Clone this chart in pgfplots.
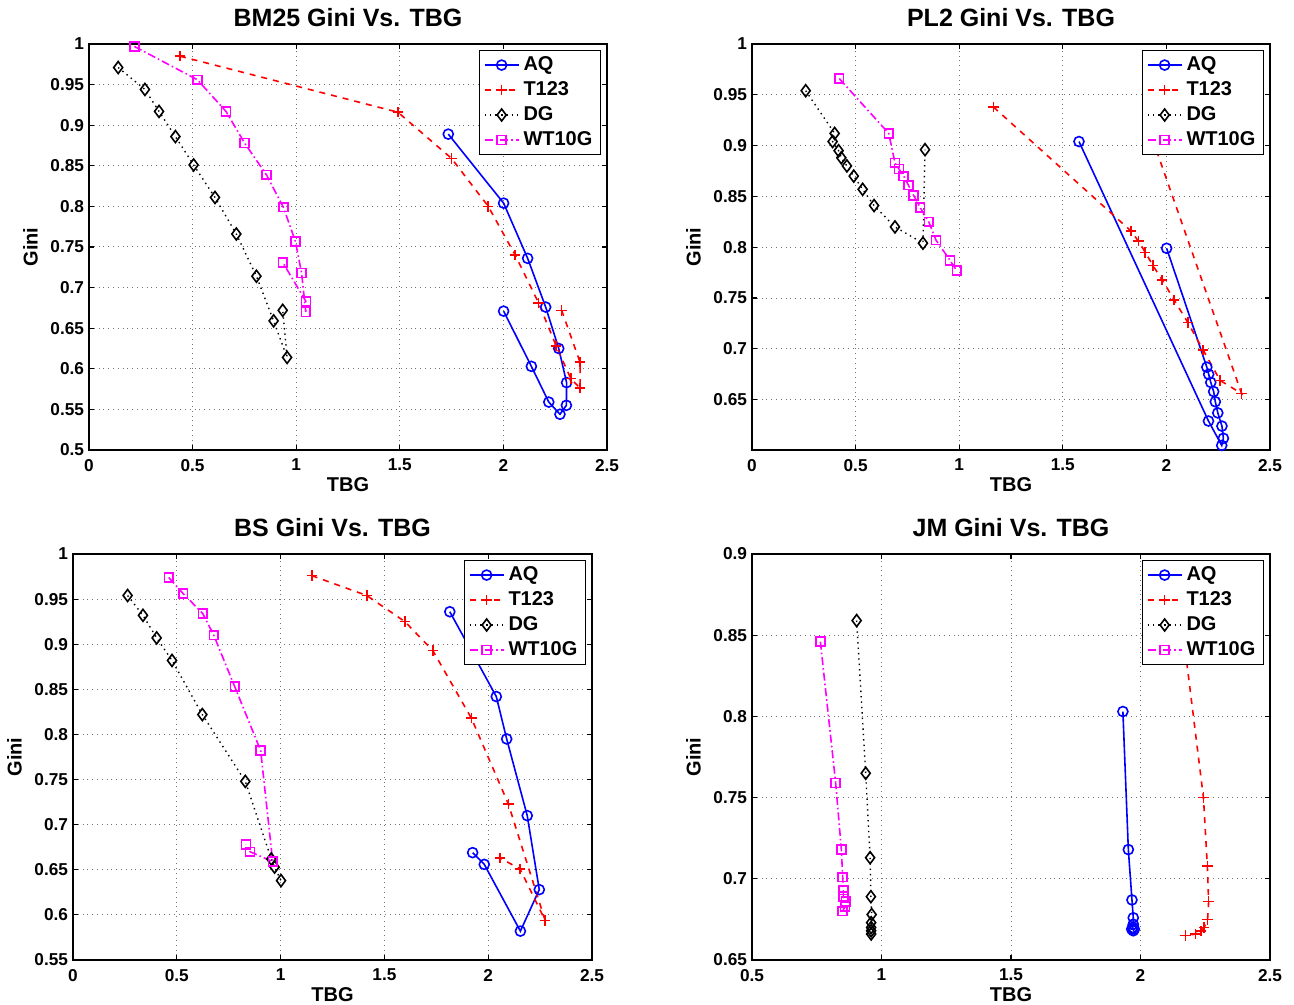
\documentclass[border=0pt]{standalone}
\usepackage{pgfplots}
\pgfplotsset{compat=1.18}
\usepackage{fontspec}
\setmainfont{Liberation Sans}
\setsansfont{Liberation Sans}
\definecolor{cAQ}{rgb}{0,0,1}
\definecolor{cT}{rgb}{1,0,0}
\definecolor{cDG}{rgb}{0,0,0}
\definecolor{cWT}{rgb}{1,0,1}
\pgfplotsset{
  gini/.style={
    scale only axis, width=259pt, height=203pt,
    xmin=0, xmax=2.5, xtick={0,0.5,1,1.5,2,2.5},
    grid=major, grid style={dotted, line width=0.5pt, black!55},
    axis line style={line width=0.7pt},
    tick style={line width=0.6pt, black},
    tick align=inside, major tick length=2.6pt,
    ticklabel style={font=\fontsize{8.6}{10}\selectfont\bfseries},
    /pgf/number format/assume math mode=true,
    xticklabel style={yshift=-1pt},
    yticklabel style={xshift=1pt},
    title style={font=\fontsize{12.5}{14}\selectfont\bfseries, yshift=-1pt},
    xlabel=TBG, ylabel=Gini,
    label style={font=\fontsize{10}{11}\selectfont\bfseries},
    xlabel style={yshift=3.5pt},
    ylabel style={yshift=-0.5pt},
    legend style={at={(1,1)}, anchor=north east, xshift=-3pt, yshift=-3pt,
      font=\fontsize{10}{11}\selectfont\bfseries, draw=black, fill=white,
      line width=0.6pt, inner xsep=2pt, inner ysep=1pt,
      /tikz/every even column/.append style={column sep=0pt}},
    legend cell align=left,
  },
  sAQ/.style={cAQ, solid, line width=0.8pt, mark=o, mark size=2.5pt, mark options={solid}},
  sT/.style={cT, dashed, line width=0.8pt, mark=+, mark size=2.6pt, mark options={solid}},
  sDG/.style={cDG, dotted, line width=0.7pt, mark=diamond, mark size=3pt, mark options={solid, line width=0.8pt}},
  sWT/.style={cWT, dash pattern=on 4pt off 1.5pt on 0.8pt off 1.5pt, line width=0.8pt, mark=square, mark size=2.2pt, mark options={solid}},
}
\begin{document}
\begin{tikzpicture}
\path[use as bounding box] (0,0) rectangle (647pt,502.5pt);
% BM25
\begin{axis}[gini, at={(44.5pt,277.5pt)}, anchor=south west,
  ymin=0.5, ymax=1, ytick={0.5,0.55,0.6,0.65,0.7,0.75,0.8,0.85,0.9,0.95,1},
  title={BM25 Gini Vs. TBG}]
\addplot[sAQ] coordinates {(1.734,0.889)(2.001,0.804)(2.117,0.736)(2.204,0.676)(2.267,0.625)(2.305,0.583)(2.304,0.555)(2.273,0.544)(2.219,0.559)(2.135,0.603)(2.001,0.671)};
\addplot[sT] coordinates {(0.439,0.985)(1.491,0.916)(1.750,0.859)(1.927,0.800)(2.057,0.740)(2.170,0.681)(2.255,0.628)(2.325,0.588)(2.370,0.576)(2.370,0.608)(2.281,0.672)};
\addplot[sDG] coordinates {(0.141,0.971)(0.270,0.944)(0.338,0.917)(0.417,0.886)(0.505,0.851)(0.608,0.811)(0.711,0.766)(0.808,0.714)(0.891,0.659)(0.956,0.614)(0.935,0.672)};
\addplot[sWT] coordinates {(0.219,0.997)(0.523,0.956)(0.661,0.917)(0.751,0.878)(0.856,0.839)(0.938,0.799)(0.996,0.757)(1.026,0.718)(1.046,0.670)(1.047,0.683)(0.935,0.731)};
\legend{AQ,T123,DG,WT10G}
\end{axis}
% PL2
\begin{axis}[gini, at={(376pt,277.5pt)}, anchor=south west,
  ymin=0.6005, ymax=1, ytick={0.65,0.7,0.75,0.8,0.85,0.9,0.95,1},
  title={PL2 Gini Vs. TBG}]
\addplot[sAQ] coordinates {(1.578,0.904)(2.203,0.629)(2.267,0.605)(2.275,0.612)(2.268,0.624)(2.248,0.637)(2.236,0.648)(2.228,0.658)(2.214,0.667)(2.204,0.675)(2.195,0.682)(2.001,0.799)};
\addplot[sT] coordinates {(1.165,0.938)(1.829,0.816)(1.865,0.806)(1.898,0.795)(1.935,0.782)(1.979,0.768)(2.038,0.748)(2.103,0.726)(2.177,0.699)(2.259,0.669)(2.363,0.656)(1.931,0.9075)};
\addplot[sDG] coordinates {(0.259,0.954)(0.399,0.912)(0.389,0.904)(0.418,0.895)(0.431,0.888)(0.458,0.880)(0.491,0.870)(0.534,0.857)(0.589,0.841)(0.690,0.820)(0.825,0.804)(0.835,0.896)};
\addplot[sWT] coordinates {(0.421,0.966)(0.660,0.912)(0.690,0.883)(0.709,0.877)(0.732,0.870)(0.755,0.861)(0.780,0.851)(0.812,0.839)(0.853,0.825)(0.888,0.807)(0.956,0.787)(0.988,0.777)};
\legend{AQ,T123,DG,WT10G}
\end{axis}
% BS
\begin{axis}[gini, at={(36.5pt,22.5pt)}, anchor=south west, width=259.5pt,
  ymin=0.55, ymax=1, ytick={0.55,0.6,0.65,0.7,0.75,0.8,0.85,0.9,0.95,1},
  title={BS Gini Vs. TBG}]
\addplot[sAQ] coordinates {(1.815,0.936)(2.039,0.842)(2.089,0.795)(2.188,0.710)(2.246,0.628)(2.155,0.582)(1.981,0.656)(1.925,0.669)};
\addplot[sT] coordinates {(1.150,0.976)(1.415,0.954)(1.599,0.925)(1.733,0.893)(1.919,0.818)(2.097,0.723)(2.274,0.594)(2.153,0.651)(2.057,0.663)};
\addplot[sDG] coordinates {(0.263,0.954)(0.337,0.932)(0.403,0.907)(0.477,0.882)(0.623,0.822)(0.830,0.748)(0.955,0.662)(0.971,0.653)(1.002,0.638)};
\addplot[sWT] coordinates {(0.461,0.974)(0.531,0.956)(0.625,0.934)(0.678,0.910)(0.779,0.853)(0.904,0.782)(0.962,0.659)(0.853,0.670)(0.833,0.678)};
\legend{AQ,T123,DG,WT10G}
\end{axis}
% JM
\begin{axis}[gini, at={(376pt,22.5pt)}, anchor=south west,
  xmin=0.5, xmax=2.5, xtick={0.5,1,1.5,2,2.5},
  ymin=0.65, ymax=0.9, ytick={0.65,0.7,0.75,0.8,0.85,0.9},
  title={JM Gini Vs. TBG}]
\addplot[sAQ] coordinates {(1.932,0.803)(1.953,0.718)(1.967,0.687)(1.972,0.676)(1.972,0.672)(1.970,0.670)(1.966,0.669)(1.976,0.669)(1.972,0.668)};
\addplot[sT] coordinates {(2.150,0.870)(2.243,0.750)(2.258,0.708)(2.263,0.686)(2.259,0.675)(2.246,0.670)(2.234,0.668)(2.213,0.666)(2.174,0.665)};
\addplot[sDG] coordinates {(0.904,0.859)(0.939,0.765)(0.956,0.713)(0.959,0.689)(0.962,0.678)(0.960,0.673)(0.960,0.670)(0.960,0.668)(0.960,0.666)};
\addplot[sWT] coordinates {(0.764,0.846)(0.823,0.759)(0.845,0.718)(0.850,0.701)(0.853,0.693)(0.853,0.689)(0.862,0.686)(0.859,0.683)(0.850,0.680)};
\legend{AQ,T123,DG,WT10G}
\end{axis}
\end{tikzpicture}
\end{document}
